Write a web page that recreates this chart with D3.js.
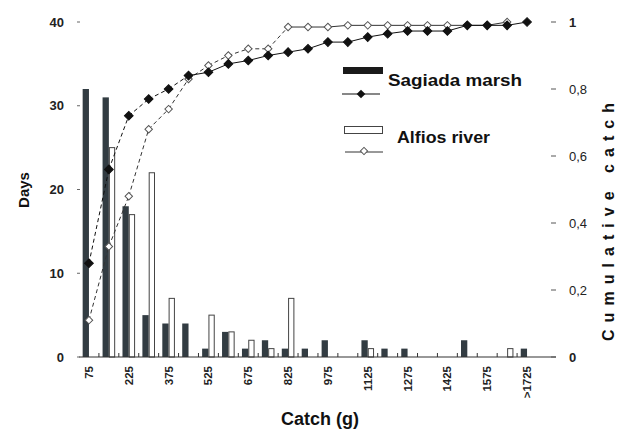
<!DOCTYPE html>
<html>
<head>
<meta charset="utf-8">
<script src="https://cdn.jsdelivr.net/npm/d3@7"></script>
<style>
  html, body { margin: 0; padding: 0; background: #fff; }
  svg { display: block; }
  text { font-family: "Liberation Sans", Arial, sans-serif; }
</style>
</head>
<body>
<svg id="chart" width="634" height="430"></svg>
<script>
// ---- data ----
const categories = ["75","150","225","300","375","450","525","600","675","750","825","900","975","1050","1125","1200","1275","1350","1425","1500","1575","1650",">1725"];
const tickLabels = ["75","225","375","525","675","825","975","1125","1275","1425","1575",">1725"];
const sagiadaDays = [32,31,18,5,4,4,1,3,1,2,1,1,2,0,2,1,1,0,0,2,0,0,1];
const alfiosDays  = [0,25,17,22,7,0,5,3,2,1,7,0,0,0,1,0,0,0,0,0,0,1,0];
const sagiadaCum = [0.28,0.56,0.72,0.77,0.80,0.84,0.85,0.875,0.885,0.90,0.91,0.92,0.94,0.94,0.955,0.965,0.973,0.973,0.973,0.99,0.99,0.99,1.0];
const alfiosCum  = [0.11,0.33,0.48,0.68,0.74,0.83,0.87,0.90,0.92,0.92,0.985,0.985,0.985,0.99,0.99,0.99,0.99,0.99,0.99,0.99,0.99,1.0];
const leftTicks = [0,10,20,30,40];
const rightTicks = [0,0.2,0.4,0.6,0.8,1];

const svg = d3.select("#chart");
const x0 = d3.scaleBand().domain(categories).range([79, 537]).padding(0);
const x1 = d3.scaleBand().domain(["s","a"]).range([0, x0.bandwidth()]).paddingInner(0).paddingOuter(0.58);
const yL = d3.scaleLinear().domain([0,40]).range([357,22]);
const yR = d3.scaleLinear().domain([0,1]).range([357,22]);
const xc = c => x0(c) + x0.bandwidth()/2;

// bars
const g = svg.append("g");
categories.forEach((c,i) => {
  if (sagiadaDays[i] > 0)
    g.append("rect").attr("x", x0(c)+x1("s")).attr("width", x1.bandwidth())
      .attr("y", yL(sagiadaDays[i])).attr("height", yL(0)-yL(sagiadaDays[i]))
      .attr("fill", "#323c42");
  if (alfiosDays[i] > 0)
    g.append("rect").attr("x", x0(c)+x1("a")+0.5).attr("width", x1.bandwidth()-1)
      .attr("y", yL(alfiosDays[i])).attr("height", yL(0)-yL(alfiosDays[i]))
      .attr("fill", "#fff").attr("stroke", "#444").attr("stroke-width", 1);
});

// x baseline and ticks
svg.append("line").attr("x1",79).attr("x2",556).attr("y1",yL(0)).attr("y2",yL(0))
  .attr("stroke","#333").attr("stroke-width",1.2);
categories.forEach((c,i) => {
  if (i === 0) return;
  svg.append("line").attr("x1",x0(c)).attr("x2",x0(c)).attr("y1",yL(0)).attr("y2",yL(0)-4)
    .attr("stroke","#333");
});
categories.forEach((c,i) => {
  if (i % 2 !== 0) return;
  const lbl = tickLabels[i/2];
  svg.append("text").attr("transform",`translate(${xc(c)+4},366) rotate(-90)`)
    .attr("text-anchor","end").attr("font-size",11.5).attr("font-weight","bold")
    .attr("fill","#222").text(lbl);
});

// left ticks
leftTicks.forEach(t => {
  svg.append("line").attr("x1",77).attr("x2",80).attr("y1",yL(t)).attr("y2",yL(t)).attr("stroke","#666");
  svg.append("text").attr("x",64).attr("y",yL(t)+4.5).attr("text-anchor","end")
    .attr("font-size",13).attr("font-weight","bold").attr("fill","#222").text(t);
});
// right ticks
rightTicks.forEach(t => {
  svg.append("line").attr("x1",551).attr("x2",556).attr("y1",yR(t)).attr("y2",yR(t)).attr("stroke","#555");
  svg.append("text").attr("x",569).attr("y",yR(t)+5).attr("text-anchor","start")
    .attr("font-size",13).attr("font-weight", (t===0||t===1)?"bold":"normal").attr("fill","#222")
    .text(String(t).replace(".", ","));
});

// lines
function drawSeries(vals, dashedUntil, filled) {
  const pts = vals.map((v,i) => [xc(categories[i]), yR(v)]);
  const lg = svg.append("g");
  for (let i = 0; i < pts.length-1; i++) {
    lg.append("line").attr("x1",pts[i][0]).attr("y1",pts[i][1]).attr("x2",pts[i+1][0]).attr("y2",pts[i+1][1])
      .attr("stroke", filled ? "#111" : "#333").attr("stroke-width",1)
      .attr("stroke-dasharray", i < dashedUntil ? "4,3" : null);
  }
  const sym = d3.symbol().type(d3.symbolSquare).size(filled ? 38 : 28);
  lg.selectAll("path").data(pts).join("path")
    .attr("d", sym).attr("transform", d => `translate(${d[0]},${d[1]}) rotate(45)`)
    .attr("fill", filled ? "#111" : "#fff").attr("stroke", filled ? "#111" : "#555").attr("stroke-width",1);
}
drawSeries(alfiosCum, 10, false);
drawSeries(sagiadaCum, 5, true);

// legend
const lg = svg.append("g");
lg.append("rect").attr("x",343).attr("y",67).attr("width",40).attr("height",7).attr("fill","#1a1a1a");
lg.append("text").attr("x",388).attr("y",86).attr("font-size",17).attr("font-weight","bold")
  .attr("textLength",134).attr("lengthAdjust","spacingAndGlyphs").attr("fill","#111").text("Sagiada marsh");
lg.append("line").attr("x1",342).attr("x2",380).attr("y1",94).attr("y2",94).attr("stroke","#111").attr("stroke-width",1.2);
lg.append("path").attr("d", d3.symbol().type(d3.symbolSquare).size(38)).attr("transform","translate(361,94) rotate(45)").attr("fill","#111");
lg.append("rect").attr("x",344.5).attr("y",126.5).attr("width",38).attr("height",7).attr("fill","#fff").attr("stroke","#444");
lg.append("text").attr("x",397).attr("y",143).attr("font-size",17).attr("font-weight","bold")
  .attr("textLength",93).attr("lengthAdjust","spacingAndGlyphs").attr("fill","#111").text("Alfios river");
lg.append("line").attr("x1",345).attr("x2",383).attr("y1",152).attr("y2",152).attr("stroke","#333").attr("stroke-width",1);
lg.append("path").attr("d", d3.symbol().type(d3.symbolSquare).size(26)).attr("transform","translate(364,151) rotate(45)").attr("fill","#fff").attr("stroke","#555");

// axis titles
svg.append("text").attr("transform","translate(29,190) rotate(-90)").attr("text-anchor","middle")
  .attr("font-size",15).attr("font-weight","bold").attr("fill","#111").text("Days");
svg.append("text").attr("x",320).attr("y",425).attr("text-anchor","middle")
  .attr("font-size",18).attr("font-weight","bold").attr("fill","#111").text("Catch (g)");
svg.append("text").attr("transform","translate(614,222) rotate(-90)").attr("text-anchor","middle")
  .attr("font-size",16).attr("font-weight","bold").attr("textLength",238).attr("lengthAdjust","spacing")
  .attr("fill","#111").text("Cumulative catch");
</script>
</body>
</html>
